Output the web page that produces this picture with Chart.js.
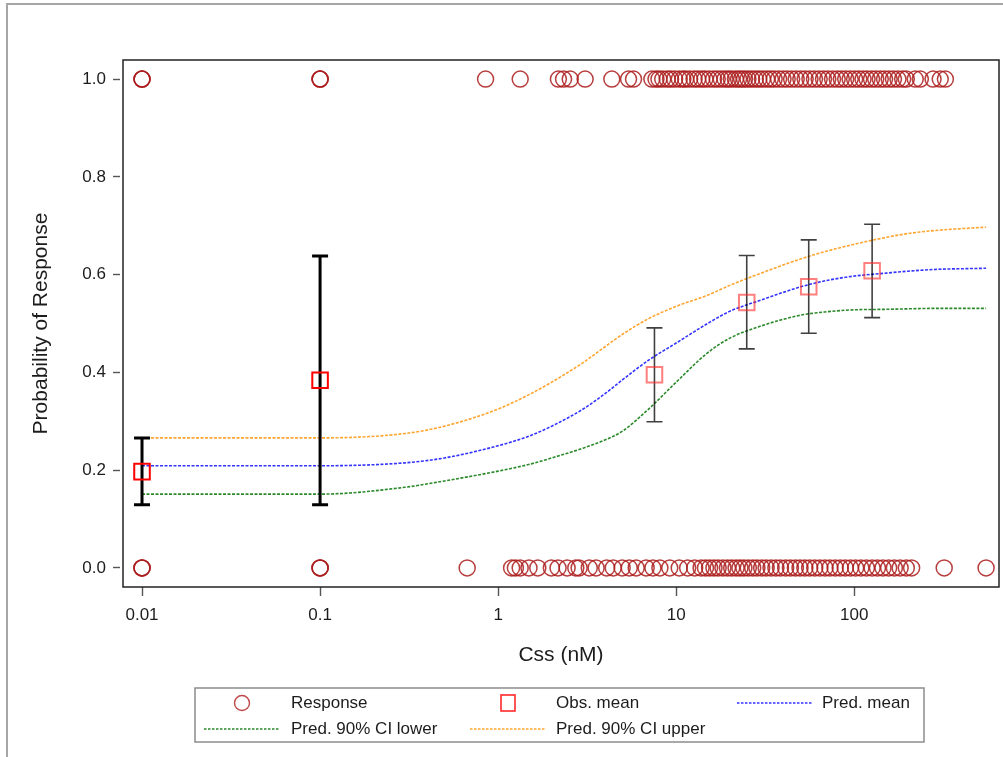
<!DOCTYPE html>
<html lang="en">
<head>
  <meta charset="UTF-8">
  <title>Probability of Response vs Css</title>
  <script src="https://cdn.jsdelivr.net/npm/chart.js"></script>
  <style>
    html, body { margin: 0; padding: 0; background: #fff; }
    #wrap { width: 1003px; height: 757px; position: relative; }
  </style>
</head>
<body>
<div id="wrap"><canvas id="respChart" width="1003" height="757"></canvas></div>

<script>
// Observed responses: Css (nM) of subjects with response = 1 and response = 0
const respOneX = [0.01, 0.01, 0.01, 0.1, 0.1, 0.1,
  0.85, 1.33, 2.18, 2.33, 2.54, 3.08, 4.35, 5.40, 5.76,
  7.3, 7.7, 8.0, 8.4, 8.9, 9.3, 9.8, 10.4, 10.9, 11.3, 11.9, 12.6, 13.2, 13.9, 14.5,
  15.3, 16.2, 17.0, 17.9, 18.8, 19.6, 20.4, 21.5, 22.4, 23.3, 24.2, 25.3, 26.5, 27.8,
  29.1, 30.5, 32.2, 33.8, 35.5, 37.6, 39.8, 42.0, 44.5, 47.2, 50.1, 53.0, 56.4, 59.8,
  63.5, 67.2, 71.0, 75.5, 80.2, 84.6, 89.5, 94.8, 100.5, 106, 112, 118, 125, 132, 140,
  148, 157, 166, 176, 187, 196, 220, 235, 277, 304, 325];
const respZeroX = [0.01, 0.01, 0.01, 0.1, 0.1, 0.1,
  0.67, 1.19, 1.25, 1.33, 1.49, 1.67, 1.99, 2.17, 2.44, 2.73, 2.85, 3.25, 3.55, 4.07,
  4.43, 4.97, 5.45, 5.96, 6.78, 7.4, 8.1, 9.2, 10.4, 11.6, 12.7, 13.8, 14.6, 15.4, 16.3,
  17.2, 18.3, 19.4, 20.5, 21.7, 22.8, 24.0, 25.4, 26.9, 28.4, 30.2, 32.0, 34.1, 36.3,
  38.5, 41.2, 43.8, 46.7, 49.6, 52.8, 56.2, 60.0, 64.1, 68.5, 73.0, 78.1, 83.4, 89.0,
  95.2, 101.8, 109, 117, 126, 135, 145, 156, 168, 181, 196, 210, 320, 550];

// Observed mean per concentration bin, with its interval
const obsX     = [0.01, 0.1, 7.55, 24.9, 55.5, 126];
const obsMean  = [0.197, 0.384, 0.395, 0.543, 0.575, 0.608];
const obsLower = [0.129, 0.129, 0.299, 0.448, 0.480, 0.512];
const obsUpper = [0.266, 0.638, 0.491, 0.639, 0.671, 0.703];

// Model predictions
const predX     = [0.01, 0.1, 0.3, 0.5, 1, 1.5, 2, 3, 4, 5, 7, 10, 15, 20, 30, 50, 70, 100, 150, 200, 300, 400, 550];
const predMean  = [0.209, 0.209, 0.215, 0.225, 0.250, 0.270, 0.290, 0.325, 0.357, 0.385, 0.425, 0.460,
  0.500, 0.525, 0.548, 0.575, 0.588, 0.597, 0.603, 0.607, 0.611, 0.612, 0.613];
const predLower = [0.151, 0.151, 0.165, 0.178, 0.198, 0.212, 0.225, 0.245, 0.262, 0.280, 0.325, 0.380,
  0.440, 0.470, 0.495, 0.517, 0.524, 0.528, 0.529, 0.530, 0.531, 0.531, 0.531];
const predUpper = [0.266, 0.266, 0.275, 0.290, 0.325, 0.355, 0.380, 0.420, 0.453, 0.478, 0.510, 0.535,
  0.558, 0.578, 0.603, 0.632, 0.648, 0.662, 0.676, 0.684, 0.691, 0.694, 0.697];

// Axis ticks
const xTicks = [0.01, 0.1, 1, 10, 100];
const xTickLabels = ['0.01', '0.1', '1', '10', '100'];
const yTicks = [0, 0.2, 0.4, 0.6, 0.8, 1.0];

const FONT = "'Liberation Sans', Arial, sans-serif";
const TXT = '#1c1c1c';

function pts(xs, ys) {
  return xs.map((x, i) => ({ x: x, y: Array.isArray(ys) ? ys[i] : ys }));
}

// error bars under the obs-mean squares
const errorBars = {
  id: 'errorBars',
  beforeDatasetDraw(chart, args) {
    if (args.index !== 1) return;
    const ctx = chart.ctx, xs = chart.scales.x, ys = chart.scales.y;
    ctx.save();
    obsX.forEach((v, i) => {
      const px = xs.getPixelForValue(v);
      const top = ys.getPixelForValue(obsUpper[i]);
      const bot = ys.getPixelForValue(obsLower[i]);
      const bold = i < 2;
      ctx.strokeStyle = bold ? '#000' : 'rgba(0,0,0,0.75)';
      ctx.lineWidth = bold ? 3 : 1.6;
      ctx.beginPath();
      ctx.moveTo(px, top); ctx.lineTo(px, bot);
      ctx.moveTo(px - 8, top); ctx.lineTo(px + 8, top);
      ctx.moveTo(px - 8, bot); ctx.lineTo(px + 8, bot);
      ctx.stroke();
    });
    ctx.restore();
  }
};

// page frame, plot box and the boxed legend
const frame = {
  id: 'frame',
  beforeDraw(chart) {
    const ctx = chart.ctx;
    ctx.save();
    ctx.fillStyle = '#fff';
    ctx.fillRect(0, 0, chart.width, chart.height);
    ctx.strokeStyle = '#a6a6a6';
    ctx.lineWidth = 2;
    ctx.beginPath();
    ctx.moveTo(7, chart.height); ctx.lineTo(7, 4); ctx.lineTo(chart.width, 4);
    ctx.stroke();
    ctx.restore();
  },
  afterDraw(chart) {
    const ctx = chart.ctx, a = chart.chartArea;
    ctx.save();
    ctx.strokeStyle = '#222';
    ctx.lineWidth = 1.5;
    ctx.strokeRect(a.left, a.top, a.right - a.left, a.bottom - a.top);

    // legend
    ctx.strokeStyle = '#8c8c8c';
    ctx.lineWidth = 1.5;
    ctx.strokeRect(195, 688, 729, 54);
    const rows = [703, 729];
    const markX = [242, 508, 775];
    const textX = [291, 556, 822];
    ctx.font = '17px ' + FONT;
    ctx.textBaseline = 'middle';
    ctx.textAlign = 'left';
    chart.data.datasets.forEach((ds, i) => {
      const r = Math.floor(i / 3), c = i % 3;
      const y = rows[r], mx = markX[c];
      ctx.save();
      if (ds.legendMark === 'circle') {
        ctx.strokeStyle = 'rgba(180,40,40,0.85)';
        ctx.lineWidth = 1.4;
        ctx.beginPath(); ctx.arc(mx, y, 7.5, 0, Math.PI * 2); ctx.stroke();
      } else if (ds.legendMark === 'square') {
        ctx.strokeStyle = '#ff2a2a';
        ctx.lineWidth = 1.6;
        ctx.strokeRect(mx - 7, y - 8, 14, 16);
      } else {
        ctx.strokeStyle = ds.borderColor;
        ctx.lineWidth = 1.3;
        ctx.setLineDash([2.5, 1.5]);
        ctx.beginPath(); ctx.moveTo(mx - 38, y); ctx.lineTo(mx + 38, y); ctx.stroke();
      }
      ctx.restore();
      ctx.fillStyle = TXT;
      ctx.fillText(ds.label, textX[c], y);
    });
    ctx.restore();
  }
};

const lineStyle = {
  showLine: true,
  pointRadius: 0,
  borderWidth: 1.6,
  borderDash: [3, 1.5],
  cubicInterpolationMode: 'monotone',
  fill: false
};

new Chart(document.getElementById('respChart'), {
  type: 'scatter',
  data: {
    datasets: [
      {
        label: 'Response',
        legendMark: 'circle',
        data: pts(respOneX, 1).concat(pts(respZeroX, 0)),
        pointStyle: 'circle',
        pointRadius: 8,
        borderWidth: 1.5,
        borderColor: 'rgba(172,28,28,0.85)',
        backgroundColor: 'rgba(0,0,0,0)',
        clip: false,
        order: 5
      },
      {
        label: 'Obs. mean',
        legendMark: 'square',
        data: pts(obsX, obsMean),
        pointStyle: 'rect',
        pointRadius: 11,
        borderWidth: 2,
        borderColor: c => c.dataIndex < 2 ? '#ff0000' : 'rgba(255,40,40,0.6)',
        backgroundColor: 'rgba(0,0,0,0)',
        clip: false,
        order: 1
      },
      Object.assign({ label: 'Pred. mean', data: pts(predX, predMean),
        borderColor: 'rgba(30,30,255,0.9)', order: 2 }, lineStyle),
      Object.assign({ label: 'Pred. 90% CI lower', data: pts(predX, predLower),
        borderColor: '#2a8a2a', order: 4 }, lineStyle),
      Object.assign({ label: 'Pred. 90% CI upper', data: pts(predX, predUpper),
        borderColor: '#ffa530', order: 3 }, lineStyle)
    ]
  },
  options: {
    responsive: false,
    animation: false,
    events: [],
    layout: { autoPadding: false, padding: { left: 0, top: 60, right: 4, bottom: 85 } },
    plugins: {
      legend: { display: false },
      tooltip: { enabled: false }
    },
    scales: {
      x: {
        type: 'logarithmic',
        min: 0.00782,
        max: 650,
        afterBuildTicks: s => { s.ticks = xTicks.map(v => ({ value: v })); },
        afterFit: s => { s.height = 85; s.paddingLeft = 0; s.paddingRight = 0; },
        ticks: {
          autoSkip: false,
          maxRotation: 0,
          padding: 9,
          color: TXT,
          font: { family: FONT, size: 17 },
          callback: (v, i) => xTickLabels[i]
        },
        grid: { drawOnChartArea: false, drawTicks: true, tickLength: 9, tickColor: '#555', tickWidth: 1.4 },
        border: { display: false },
        title: {
          display: true,
          text: 'Css (nM)',
          color: TXT,
          font: { family: FONT, size: 21 },
          padding: { top: 4, bottom: 4 }
        }
      },
      y: {
        type: 'linear',
        min: -0.039,
        max: 1.039,
        afterBuildTicks: s => { s.ticks = yTicks.map(v => ({ value: v })); },
        afterFit: s => { s.width = 123; s.paddingTop = 0; s.paddingBottom = 0; },
        ticks: {
          padding: 7,
          color: TXT,
          font: { family: FONT, size: 17 },
          callback: v => v.toFixed(1)
        },
        grid: { drawOnChartArea: false, drawTicks: true, tickLength: 10, tickColor: '#555',
          tickWidth: 1.4, tickBorderDash: [7, 3] },
        border: { display: false },
        title: {
          display: true,
          text: 'Probability of Response',
          color: TXT,
          font: { family: FONT, size: 21 },
          padding: { top: 29, bottom: 4 }
        }
      }
    }
  },
  plugins: [frame, errorBars]
});
</script>
</body>
</html>
